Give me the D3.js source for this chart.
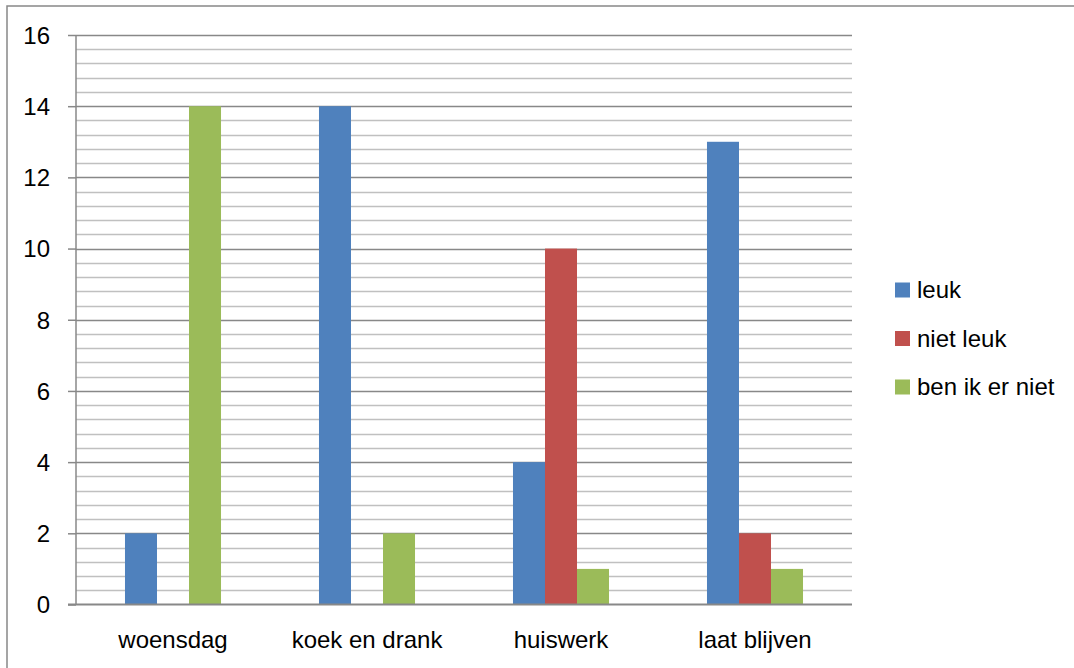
<!DOCTYPE html>
<html><head><meta charset="utf-8">
<script src="https://cdn.jsdelivr.net/npm/d3@7"></script>
<style>body{margin:0;background:#fff;}svg{display:block;}text{font-family:"Liberation Sans",Arial,sans-serif;fill:#000;}</style>
</head><body><svg id="c" width="1074" height="668"></svg>
<script>
const categories = ["woensdag","koek en drank","huiswerk","laat blijven"];
const seriesNames = ["leuk","niet leuk","ben ik er niet"];
const leuk = [2,14,4,13];
const nietLeuk = [0,0,10,2];
const benIkErNiet = [14,2,1,1];
const colors = ["#4F81BD","#C0504D","#9BBB59"];
const majorTicks = [0,2,4,6,8,10,12,14,16];

const seriesValues = [leuk, nietLeuk, benIkErNiet];
const svg = d3.select("#c");
// outer frame
svg.append("rect").attr("x",7).attr("y",6).attr("width",1100).attr("height",700)
  .attr("fill","none").attr("stroke","#888").attr("stroke-width",1.5);

const x0=76,x1=852,yTop=35,yBot=604.5;
const y = d3.scaleLinear().domain([0,16]).range([yBot,yTop]);
const xc = d3.scaleBand().domain(categories).range([x0,x1]).paddingInner(0).paddingOuter(0);
const groupW = xc.bandwidth()*0.495;
const xs = d3.scaleBand().domain(seriesNames).range([0,groupW]);

// minor gridlines
const minor = d3.range(0,16.001,0.4).filter(v=>Math.abs(v/2-Math.round(v/2))>1e-6);
svg.append("g").selectAll("line").data(minor).join("line")
  .attr("x1",x0).attr("x2",x1).attr("y1",d=>Math.round(y(d))+0.5).attr("y2",d=>Math.round(y(d))+0.5)
  .attr("stroke","#c0c0c0").attr("stroke-width",1.5);
// major gridlines
svg.append("g").selectAll("line").data(majorTicks.filter(d=>d>0)).join("line")
  .attr("x1",x0).attr("x2",x1).attr("y1",d=>Math.round(y(d))+0.5).attr("y2",d=>Math.round(y(d))+0.5)
  .attr("stroke","#888").attr("stroke-width",1.5);

// bars
const g = svg.append("g");
categories.forEach((c,i)=>{
  const start = xc(c)+(xc.bandwidth()-groupW)/2;
  seriesNames.forEach((s,j)=>{
    const v = seriesValues[j][i];
    if(!v) return;
    g.append("rect").attr("x",start+xs(s)).attr("width",xs.bandwidth())
      .attr("y",y(v)).attr("height",y(0)-y(v)).attr("fill",colors[j]);
  });
});

// y axis
const yAxis = d3.axisLeft(y).tickValues(majorTicks).tickSize(8).tickPadding(18).tickFormat(d3.format("d"));
const ya = svg.append("g").attr("transform",`translate(${x0},0)`).call(yAxis);
ya.select(".domain").attr("stroke","#888").attr("stroke-width",1.5).attr("d",`M0,${yTop}V${yBot}`);
ya.selectAll(".tick line").attr("stroke","#888").attr("stroke-width",1.5);
ya.selectAll(".tick text").style("font-size","24px").attr("fill","#000").attr("dy","0.35em");

// x axis
const xAxis = d3.axisBottom(xc).tickSize(0).tickPadding(0);
const xa = svg.append("g").attr("transform",`translate(0,${yBot})`).call(xAxis);
xa.select(".domain").remove();
xa.append("line").attr("x1",x0-8).attr("x2",x1).attr("y1",0).attr("y2",0).attr("stroke","#888").attr("stroke-width",2);
xa.selectAll(".tick text").style("font-size","24px").attr("fill","#000").attr("dy",0).attr("y",43);

// legend
const lg = svg.append("g");
seriesNames.forEach((s,j)=>{
  const cy = 290 + j*48.5;
  lg.append("rect").attr("x",895).attr("y",cy-7.5).attr("width",15).attr("height",15).attr("fill",colors[j]);
  lg.append("text").attr("x",917).attr("y",cy).attr("dy","0.35em").style("font-size","24px").text(s);
});
</script></body></html>
